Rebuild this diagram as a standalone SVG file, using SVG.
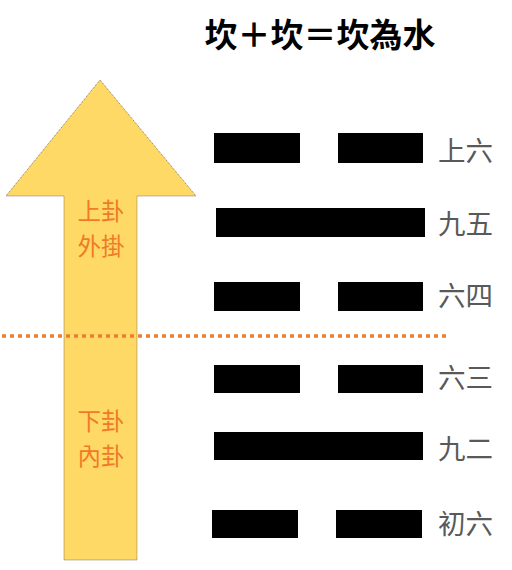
<svg xmlns="http://www.w3.org/2000/svg" width="512" height="570" viewBox="0 0 512 570">
<style>
.title{font-family:"Noto Sans CJK TC","Noto Sans CJK JP",sans-serif;font-weight:bold;font-size:33px;fill:#000}
.lbl{font-family:"Noto Sans CJK TC","Noto Sans CJK JP",sans-serif;font-size:27.5px;fill:#595959}
.alb{font-family:"Noto Sans CJK TC","Noto Sans CJK JP",sans-serif;font-size:23.5px;fill:#F07A28}
.bar{fill:#000}
</style>
<rect width="512" height="570" fill="#fff"/>
<text class="title" x="320" y="33" text-anchor="middle" dominant-baseline="central">坎＋坎＝坎為水</text>
<g id="arrow">
<polygon points="100,80 196,196 137,196 137,560 64,560 64,196 6,196" fill="#FFD966" stroke="#6b5a2a" stroke-width="0.8" stroke-dasharray="1,1"/>
<text class="alb" x="101" y="210" text-anchor="middle" dominant-baseline="central">上卦</text>
<text class="alb" x="101" y="245" text-anchor="middle" dominant-baseline="central">外掛</text>
<text class="alb" x="101" y="420" text-anchor="middle" dominant-baseline="central">下卦</text>
<text class="alb" x="101" y="455" text-anchor="middle" dominant-baseline="central">內卦</text>
</g>
<g id="connectors">
<line x1="2" y1="336" x2="448" y2="336" stroke="#ED7D31" stroke-width="3.5" stroke-dasharray="4,4"/>
</g>
<g id="line6">
<rect class="bar" x="214" y="133" width="86" height="30"/>
<rect class="bar" x="338" y="133" width="85" height="30"/>
<text class="lbl" x="438" y="149" dominant-baseline="central">上六</text>
</g>
<g id="line5">
<rect class="bar" x="216" y="208" width="209" height="29"/>
<text class="lbl" x="438" y="222" dominant-baseline="central">九五</text>
</g>
<g id="line4">
<rect class="bar" x="214" y="282" width="86" height="29"/>
<rect class="bar" x="338" y="282" width="85" height="29"/>
<text class="lbl" x="438" y="294" dominant-baseline="central">六四</text>
</g>
<g id="line3">
<rect class="bar" x="214" y="365" width="86" height="28"/>
<rect class="bar" x="338" y="365" width="85" height="28"/>
<text class="lbl" x="438" y="376" dominant-baseline="central">六三</text>
</g>
<g id="line2">
<rect class="bar" x="214" y="432" width="209" height="28"/>
<text class="lbl" x="438" y="447" dominant-baseline="central">九二</text>
</g>
<g id="line1">
<rect class="bar" x="212" y="510" width="86" height="28"/>
<rect class="bar" x="336" y="510" width="86" height="28"/>
<text class="lbl" x="438" y="522" dominant-baseline="central">初六</text>
</g>
</svg>
